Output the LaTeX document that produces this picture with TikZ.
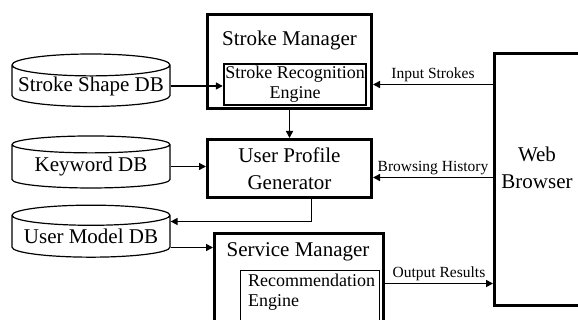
\documentclass[tikz,border=0pt]{standalone}
\usepackage{fontspec}
\setmainfont{Liberation Serif}
\usetikzlibrary{shapes.geometric,arrows.meta}
\newcommand{\bigtxt}{\fontsize{21}{27}\selectfont}
\newcommand{\midtxt}{\fontsize{18}{20}\selectfont}
\newcommand{\smalltxt}{\fontsize{15.5}{18}\selectfont}

\begin{document}
\begin{tikzpicture}[x=1pt, y=-1pt,
    box/.style={draw, rectangle, line width=3pt, inner sep=0pt, align=center, font=\bigtxt},
    inbox/.style={draw, rectangle, line width=2.4pt, inner sep=0pt, align=center, font=\midtxt},
    db/.style={draw, cylinder, shape border rotate=90, aspect=0.15, line width=1.2pt, minimum width=158pt, minimum height=52pt, inner sep=0pt, font=\bigtxt},
    txt/.style={inner sep=0pt, align=center, font=\bigtxt},
    arr/.style={-{Triangle[length=7pt,width=7pt]}, line width=1.6pt},
    lbl/.style={above, inner sep=1.5pt, font=\smalltxt}]
    \useasboundingbox (0,0) rectangle (578,320);
    \clip (0,0) rectangle (578,320);

    % Databases
    \node[db] (ssdb) at (91,86) {Stroke Shape DB};
    \node[db] (kwdb) at (91,166.5) {Keyword DB};
    \node[db] (umdb) at (91,236.5) {User Model DB};

    % Stroke manager
    \node[box, minimum width=164pt, minimum height=94pt] (sm) at (289.5,61.5) {};
    \node[txt] (smt) at (289.5,40) {Stroke Manager};
    \node[inbox, minimum width=142pt, minimum height=41pt] (sre) at (295,84.5) {Stroke Recognition\\Engine};

    % Profile generator
    \node[box, minimum width=164pt, minimum height=58pt] (upg) at (289.5,168.5) {User Profile\\Generator};

    % Service manager
    \node[box, minimum width=169pt, minimum height=100pt] (svm) at (299,283.5) {};
    \node[txt] (svmt) at (298,252) {Service Manager};
    \node[draw, rectangle, line width=1.2pt, minimum width=139pt, minimum height=69pt] (rec) at (310,305) {};
    \node[anchor=north west, inner sep=0pt, align=left, font=\midtxt] (rect) at (248,274) {Recommendation\\Engine};

    % Browser
    \node[box, minimum width=84.5pt, minimum height=252pt] (web) at (536.75,179.5) {};
    \node[txt] (webt) at (537,168) {Web\\Browser};

    % Connectors
    \draw[arr] (ssdb.east) -- (ssdb.east -| sre.west);
    \draw[arr] (sre.east -| web.west) -- node[lbl] {Input Strokes} (sre.east -| sm.east);
    \draw[arr] (sm.south) -- (upg.north);
    \draw[arr] (kwdb.east) -- (kwdb.east -| upg.west);
    \draw[arr] ([yshift=-9pt]upg.east -| web.west) -- node[lbl] {Browsing History} ([yshift=-9pt]upg.east);
    \draw[arr] ([xshift=22pt]upg.south) |- ([yshift=15pt]umdb.east);
    \draw[arr] ([yshift=-11pt]umdb.east) -- ([yshift=-11pt]umdb.east -| svm.west);
    \draw[arr] (svm.east) -- node[lbl] {Output Results} (svm.east -| web.west);
\end{tikzpicture}
\end{document}
